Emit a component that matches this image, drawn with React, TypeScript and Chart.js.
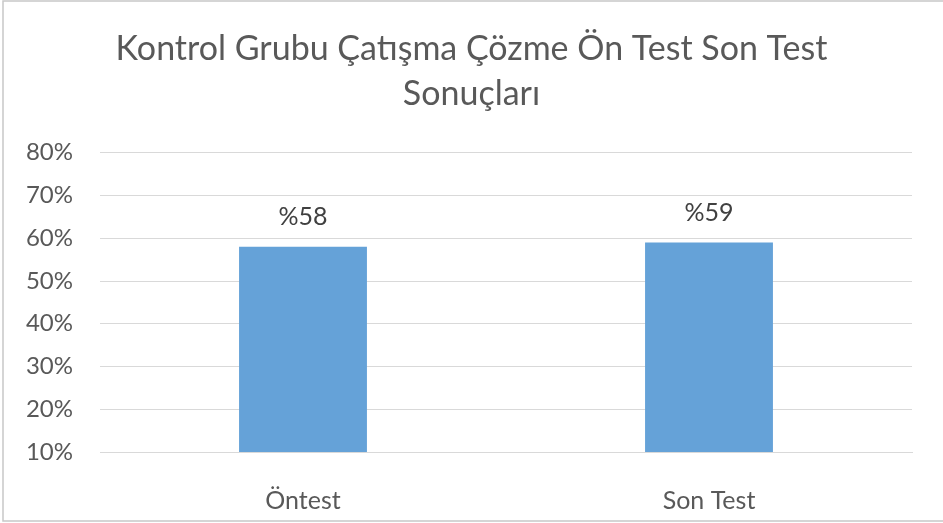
import React, { useEffect, useRef } from "react";
import { Chart, registerables } from "chart.js";

Chart.register(...registerables);

const titleLines = ["Kontrol Grubu Çatışma Çözme Ön Test Son Test", "Sonuçları"];
const categories = ["Öntest", "Son Test"];
const values = [58, 59];
const yMin = 10;
const yMax = 80;
const yStep = 10;

const FONT = "Lato";

const decorPlugin = {
  id: "decor",
  beforeDraw(chart: any) {
    const ctx = chart.ctx;
    ctx.save();
    ctx.fillStyle = "#ffffff";
    ctx.fillRect(0, 0, chart.width, chart.height);
    ctx.strokeStyle = "#c8c8c8";
    ctx.lineWidth = 1.5;
    ctx.beginPath();
    ctx.moveTo(chart.width + 5, 1);
    ctx.lineTo(3, 1);
    ctx.lineTo(3, 521);
    ctx.lineTo(chart.width + 5, 521);
    ctx.stroke();
    ctx.restore();
  },
  afterDatasetsDraw(chart: any) {
    const ctx = chart.ctx;
    const meta = chart.getDatasetMeta(0);
    const data = chart.data.datasets[0].data;
    ctx.save();
    ctx.font = `25px ${FONT}`;
    ctx.fillStyle = "#404040";
    ctx.textAlign = "center";
    ctx.textBaseline = "middle";
    meta.data.forEach((el: any, i: number) => {
      ctx.fillText("%" + data[i], el.x, el.y - 30);
    });
    ctx.restore();
  },
};

export default function App() {
  const ref = useRef<HTMLCanvasElement>(null);
  useEffect(() => {
    document.body.style.margin = "0";
    const chart = new Chart(ref.current!, {
      type: "bar",
      data: {
        labels: categories,
        datasets: [
          {
            data: values,
            yAxisID: "y",
            backgroundColor: "#65a2d8",
            barPercentage: 0.63,
            categoryPercentage: 0.5,
          },
        ],
      },
      options: {
        animation: false,
        responsive: false,
        layout: { padding: { top: 0, right: 0, bottom: 0, left: 0 } },
        plugins: {
          legend: { display: false },
          tooltip: { enabled: false },
          title: {
            display: true,
            text: titleLines,
            color: "#595959",
            font: { family: FONT, size: 34, weight: "normal", lineHeight: 1.32 },
            padding: { top: 27, bottom: 36 },
          },
        },
        scales: {
          x: {
            grid: { display: false },
            border: { display: true, color: "#d9d9d9" },
            ticks: { color: "#595959", font: { family: FONT, size: 25 }, padding: 26 },
            afterFit: (s: any) => {
              s.height = 71;
            },
          },
          y: {
            min: yMin,
            max: yMax,
            grid: { color: "#d9d9d9", drawTicks: false },
            border: { display: false },
            ticks: {
              stepSize: yStep,
              color: "#595959",
              font: { family: FONT, size: 24 },
              padding: 27,
              callback: (v: any) => v + "%",
            },
            afterFit: (s: any) => {
              s.width = 100;
            },
          },
          yRight: {
            position: "right",
            min: yMin,
            max: yMax,
            grid: { display: false },
            border: { display: false },
            ticks: { display: false },
            afterFit: (s: any) => {
              s.width = 31;
            },
          },
        },
      },
      plugins: [decorPlugin],
    });
    return () => chart.destroy();
  }, []);
  return (
    <div style={{ width: 943, height: 523 }}>
      <canvas ref={ref} width={943} height={523} />
    </div>
  );
}
